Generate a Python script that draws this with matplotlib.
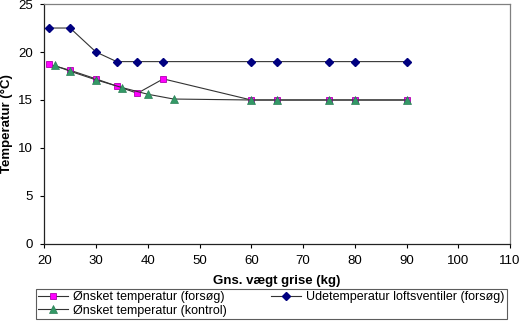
import matplotlib
matplotlib.use("Agg")
import matplotlib.pyplot as plt

plt.rcParams['font.family'] = ['Liberation Sans', 'DejaVu Sans']

# Ønsket temperatur (forsøg)
vaegt_forsoeg = [21, 25, 30, 34, 38, 43, 60, 65, 75, 80, 90]
temp_forsoeg = [18.7, 18.1, 17.2, 16.45, 15.7, 17.2, 15, 15, 15, 15, 15]

# Ønsket temperatur (kontrol)
vaegt_kontrol = [22, 25, 30, 35, 40, 45, 60, 65, 75, 80, 90]
temp_kontrol = [18.6, 18.0, 17.1, 16.3, 15.6, 15.1, 15, 15, 15, 15, 15]

# Udetemperatur loftsventiler (forsøg)
vaegt_ude = [21, 25, 30, 34, 38, 43, 60, 65, 75, 80, 90]
temp_ude = [22.5, 22.5, 20, 19, 19, 19, 19, 19, 19, 19, 19]

x_ticks = [20, 30, 40, 50, 60, 70, 80, 90, 100, 110]
y_ticks = [0, 5, 10, 15, 20, 25]

fig = plt.figure(figsize=(5.2, 3.36), dpi=100)
ax = fig.add_axes([0.085, 0.274, 0.896, 0.714])

ax.plot(vaegt_forsoeg, temp_forsoeg, color='#333333', lw=0.8, marker='s',
        ms=5, mfc='#FF00FF', mec='#B000B0', mew=0.6,
        label='Ønsket temperatur (forsøg)', zorder=3)
ax.plot(vaegt_kontrol, temp_kontrol, color='#333333', lw=0.8, marker='^',
        ms=5.5, mfc='#339966', mec='#2A7F55', mew=0.5,
        label='Ønsket temperatur (kontrol)', zorder=4)
ax.plot(vaegt_ude, temp_ude, color='#333333', lw=0.8, marker='D',
        ms=4, mfc='#000080', mec='#000080',
        label='Udetemperatur loftsventiler (forsøg)', zorder=5)

ax.set_xlim(20, 110)
ax.set_ylim(0, 25)
ax.set_xticks(x_ticks)
ax.set_yticks(y_ticks)
ax.tick_params(labelsize=9.5, length=3, width=0.8, direction='out', pad=5)

for side in ['left', 'bottom']:
    ax.spines[side].set_color('#222222')
    ax.spines[side].set_linewidth(0.9)
for side in ['top', 'right']:
    ax.spines[side].set_color('#808080')
    ax.spines[side].set_linewidth(0.9)

ax.set_xlabel('Gns. vægt grise (kg)', fontsize=9.5, fontweight='bold')
ax.xaxis.set_label_coords(0.5, -0.13)
ax.set_ylabel('Temperatur (°C)', fontsize=9.5, fontweight='bold')
ax.yaxis.set_label_coords(-0.066, 0.5)

leg = fig.legend(loc='lower left', bbox_to_anchor=(0.069, 0.05, 0.906, 0.11),
                 mode='expand', ncol=2, fontsize=9, frameon=True, fancybox=False,
                 handlelength=2.4, borderpad=0.2, labelspacing=0.1,
                 handletextpad=0.4, borderaxespad=0)
leg.get_frame().set_edgecolor('#333333')
leg.get_frame().set_linewidth(0.8)

fig.savefig('out.png', dpi=100)
